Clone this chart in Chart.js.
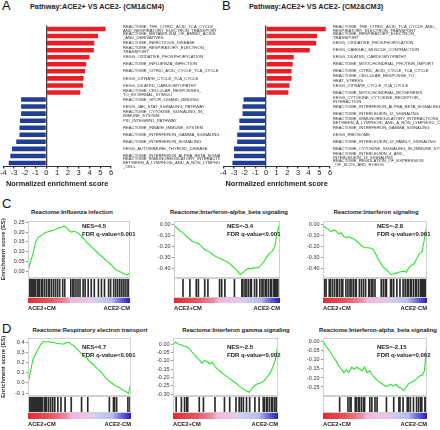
<!DOCTYPE html>
<html>
<head>
<meta charset="utf-8">
<script src="https://cdn.jsdelivr.net/npm/chart.js@4.4.1/dist/chart.umd.min.js"></script>
<style>
  body { margin: 0; width: 440px; height: 430px; position: relative; overflow: hidden; background: #fff;
         font-family: "Liberation Sans", Arial, sans-serif; color: #222; }
  .abs { position: absolute; white-space: nowrap; }
  .letter { font-size: 13px; line-height: 13px; color: #111; }
  .ptitle { font-size: 7.3px; font-weight: bold; line-height: 9px; }
  .gtitle { font-size: 5.9px; font-weight: bold; line-height: 8px; transform: translateX(-50%); }
  .nes { font-size: 6px; font-weight: bold; line-height: 7.6px; }
  canvas { position: absolute; }
</style>
</head>
<body>
<div class="abs letter" style="left:2px;top:-1px">A</div>
<div class="abs ptitle" style="left:30px;top:2px">Pathway:ACE2+ VS ACE2- (CM1&amp;CM4)</div>
<div class="abs letter" style="left:222px;top:-1px">B</div>
<div class="abs ptitle" style="left:249px;top:2px">Pathway:ACE2+ VS ACE2- (CM2&amp;CM3)</div>
<canvas id="barA" width="220" height="188" style="left:0;top:0"></canvas>
<canvas id="barB" width="220" height="188" style="left:220px;top:0"></canvas>

<div class="abs letter" style="left:2px;top:197px">C</div>
<div class="abs gtitle" style="left:72px;top:208px">Reactome:Influenza infection</div>
<div class="abs gtitle" style="left:229px;top:208px">Reactome:Interferon-alpha_beta signaling</div>
<div class="abs gtitle" style="left:376px;top:208px">Reactome:Interferon signaling</div>
<canvas id="c1" width="142" height="115" style="left:0;top:203px"></canvas>
<canvas id="c2" width="145" height="115" style="left:145px;top:203px"></canvas>
<canvas id="c3" width="150" height="115" style="left:290px;top:203px"></canvas>
<div class="abs nes" style="left:82px;top:223px">NES=4.5<br>FDR q-value&lt;0.001</div>
<div class="abs nes" style="left:227px;top:223px">NES=-3.4<br>FDR q-value&lt;0.001</div>
<div class="abs nes" style="left:377px;top:223px">NES=-2.8<br>FDR q-value&lt;0.001</div>

<div class="abs letter" style="left:2px;top:322px">D</div>
<div class="abs gtitle" style="left:90px;top:326px">Reactome:Respiratory electron transport</div>
<div class="abs gtitle" style="left:236px;top:326px">Reactome:Interferon gamma signaling</div>
<div class="abs gtitle" style="left:378px;top:326px">Reactome:Interferon-alpha_beta signaling</div>
<canvas id="d1" width="142" height="109" style="left:0;top:321px"></canvas>
<canvas id="d2" width="145" height="109" style="left:145px;top:321px"></canvas>
<canvas id="d3" width="150" height="109" style="left:290px;top:321px"></canvas>
<div class="abs nes" style="left:82px;top:344px">NES=4.7<br>FDR q-value&lt;0.001</div>
<div class="abs nes" style="left:227px;top:344px">NES=-2.5<br>FDR q-value=0.002</div>
<div class="abs nes" style="left:377px;top:344px">NES=-2.15<br>FDR q-value=0.002</div>

<script>
Chart.defaults.font.family = '"Liberation Sans", Arial, sans-serif';
Chart.defaults.color = '#222';

// panel A / B : normalized enrichment scores
const aPathways = [
  ["REACTOME_THE_CITRIC_ACID_TCA_CYCLE_", "AND_RESPIRATORY_ELECTRON_TRANSPORT"],
  ["REACTOME_METABOLISM_OF_AMINO_ACIDS", "_AND_DERIVATIVES"],
  "REACTOME_INFECTIOUS_DISEASE",
  ["REACTOME_RESPIRATORY_ELECTRON_", "TRANSPORT"],
  "KEGG_OXIDATIVE_PHOSPHORYLATION",
  "REACTOME_INFLUENZA_INFECTION",
  "REACTOME_CITRIC_ACID_CYCLE_TCA_CYCLE",
  "KEGG_CITRATE_CYCLE_TCA_CYCLE",
  "KEGG_DILATED_CARDIOMYOPATHY",
  ["REACTOME_CELLULAR_RESPONSES_", "TO_EXTERNAL_STIMULI"],
  "REACTOME_GPCR_LIGAND_BINDING",
  "KEGG_JAK_STAT_SIGNALING_PATHWAY",
  ["REACTOME_CYTOKINE_SIGNALING_IN_", "IMMUNE_SYSTEM"],
  "PID_INTEGRIN1_PATHWAY",
  "REACTOME_INNATE_IMMUNE_SYSTEM",
  "REACTOME_INTERFERON_GAMMA_SIGNALING",
  "REACTOME_INTERFERON_SIGNALING",
  "KEGG_AUTOIMMUNE_THYROID_DISEASE",
  "REACTOME_INTERFERON_ALPHA_BETA_SIGNALING",
  ["REACTOME_IMMUNOREGULATORY_INTERACTIONS_", "BETWEEN_A_LYMPHOID_AND_A_NON_LYMPHOID", "_CELL"]
];
const aNES = [5.5, 4.8, 4.45, 4.4, 4.0, 3.7, 3.6, 3.45, 3.4, 3.15,
              -2.35, -2.35, -2.35, -2.45, -2.5, -2.5, -2.8, -3.2, -3.35, -3.5];

const bPathways = [
  ["REACTOME_THE_CITRIC_ACID_TCA_CYCLE_AND_", "RESPIRATORY_ELECTRON_TRANSPORT"],
  ["REACTOME_RESPIRATORY_ELECTRON_", "TRANSPORT"],
  "KEGG_OXIDATIVE_PHOSPHORYLATION",
  "KEGG_CARDIAC_MUSCLE_CONTRACTION",
  "KEGG_DILATED_CARDIOMYOPATHY",
  "REACTOME_MITOCHONDRIAL_PROTEIN_IMPORT",
  "REACTOME_CITRIC_ACID_CYCLE_TCA_CYCLE",
  ["REACTOME_CELLULAR_RESPONSE_TO_", "HEAT_STRESS"],
  "KEGG_CITRATE_CYCLE_TCA_CYCLE",
  "REACTOME_MITOCHONDRIAL_BIOGENESIS",
  ["KEGG_CYTOKINE_CYTOKINE_RECEPTOR_", "INTERACTION"],
  "REACTOME_INTERFERON_ALPHA_BETA_SIGNALING",
  "REACTOME_INTERLEUKIN_12_SIGNALING",
  ["REACTOME_IMMUNOREGULATORY_INTERACTIONS_", "BETWEEN_A_LYMPHOID_AND_A_NON_LYMPHOID_CELL"],
  "REACTOME_INTERFERON_GAMMA_SIGNALING",
  "KEGG_RIBOSOME",
  "REACTOME_INTERLEUKIN_12_FAMILY_SIGNALING",
  "REACTOME_CYTOKINE_SIGNALING_IN_IMMUNE_SYSTEM",
  ["REACTOME_INTERLEUKIN_4_AND_", "INTERLEUKIN_13_SIGNALING"],
  ["REACTOME_REGULATION_OF_EXPRESSION", "_OF_SLITS_AND_ROBOS"]
];
const bNES = [5.6, 4.8, 4.7, 4.1, 2.6, 2.5, 2.4, 2.4, 2.2, 2.1,
              -2.1, -2.2, -2.2, -2.5, -2.5, -2.7, -2.7, -3.0, -3.0, -3.15];

// panels C / D : running enrichment score (evenly spaced along the ranked list) and hit positions (% of list)
const sideLabels = ["ACE2+CM", "ACE2-CM"];

const c1ES = [0.0, 0.05, 0.09, 0.15, 0.175, 0.18, 0.19, 0.20, 0.203, 0.207, 0.21, 0.215, 0.222, 0.226, 0.232,
  0.225, 0.21, 0.20, 0.205, 0.20, 0.193, 0.178, 0.165, 0.148, 0.137, 0.123, 0.11, 0.098, 0.085, 0.075,
  0.062, 0.05, 0.04, 0.028, 0.012, 0.003, -0.002, -0.01, -0.017, -0.02, -0.005];
const c1Hits = [1, 2, 3, 4, 5, 6, 7, 9, 10, 11, 13, 14, 16, 18, 20, 21, 23, 25, 27, 29, 31, 34, 36, 42, 44, 45,
  47, 49, 51, 54, 56, 59, 62, 65, 69, 72, 75, 79, 81, 84, 86, 88, 90, 92, 94, 96, 98, 99];
const c1Ticks = [0, 0.05, 0.10, 0.15, 0.20, 0.25];

const c2ES = [0.0, -0.025, -0.05, -0.065, -0.085, -0.11, -0.13, -0.15, -0.16, -0.165, -0.185, -0.21, -0.23, -0.24,
  -0.255, -0.275, -0.29, -0.30, -0.31, -0.325, -0.335, -0.35, -0.375, -0.395, -0.42, -0.45, -0.435, -0.41,
  -0.395, -0.40, -0.39, -0.39, -0.385, -0.36, -0.33, -0.29, -0.26, -0.24, -0.20, -0.06, 0.02];
const c2Hits = [8.5, 15, 21, 23, 29, 32, 43, 45, 48, 57, 64, 65, 67, 68, 70, 72, 73, 76, 78, 81, 83, 84, 86, 87,
  89, 91, 92, 94, 95, 96, 97, 98];
const c2Ticks = [0, -0.10, -0.20, -0.30, -0.40];

const c3ES = [0.0, -0.025, -0.04, -0.06, -0.045, -0.055, -0.08, -0.07, -0.105, -0.115, -0.105, -0.12, -0.13, -0.15,
  -0.17, -0.195, -0.205, -0.207, -0.21, -0.215, -0.25, -0.30, -0.34, -0.38, -0.40, -0.42, -0.45, -0.445,
  -0.44, -0.43, -0.425, -0.42, -0.43, -0.39, -0.365, -0.355, -0.31, -0.26, -0.25, -0.13, 0.01];
const c3Hits = [1.6, 3, 6, 7, 9, 11, 13, 14, 16, 18, 19, 22, 24, 26, 27, 29, 31, 32, 35, 37, 39, 41, 44, 45, 47,
  48, 50, 56, 58, 60, 61, 65, 66, 68, 71, 74, 77, 79, 81, 82, 84, 85, 87, 89, 90, 92, 94, 95, 96, 97, 98, 98.5];
const c3Ticks = [0, -0.10, -0.20, -0.30, -0.40];

const d1ES = [-0.01, 0.12, 0.24, 0.29, 0.34, 0.385, 0.41, 0.405, 0.41, 0.40, 0.40, 0.393, 0.39, 0.385, 0.387,
  0.40, 0.40, 0.38, 0.365, 0.335, 0.31, 0.285, 0.26, 0.24, 0.21, 0.19, 0.165, 0.14, 0.12, 0.09, 0.055,
  0.03, 0.01, -0.01, -0.027, -0.04, -0.055, -0.073, -0.085, -0.105, 0.0];
const d1Hits = [1, 2, 3, 4, 5, 6, 7, 8, 9, 10, 11, 12, 13, 14, 16, 17, 18, 20, 22, 24, 26, 29, 32, 36, 42, 52,
  58, 79, 83, 84, 86, 97, 99];
const d1Ticks = [-0.1, 0, 0.1, 0.2, 0.3, 0.4];

const d2ES = [-0.005, 0.012, 0.0, -0.005, -0.012, -0.015, -0.025, -0.045, -0.06, -0.08, -0.095, -0.115, -0.10,
  -0.105, -0.12, -0.11, -0.135, -0.152, -0.165, -0.178, -0.19, -0.20, -0.212, -0.225, -0.235, -0.25, -0.262,
  -0.273, -0.28, -0.29, -0.27, -0.25, -0.24, -0.235, -0.23, -0.215, -0.195, -0.175, -0.14, -0.095, 0.0];
const d2Hits = [3, 8, 11, 13, 14, 25, 29, 40, 49, 54, 60, 63, 65, 67, 70, 73, 78, 82, 86, 87, 89, 90, 92, 94,
  95, 97, 98.5, 99.5];
const d2Ticks = [0, -0.05, -0.10, -0.15, -0.20, -0.25, -0.30];

const d3ES = [0.01, -0.02, -0.04, -0.06, -0.085, -0.105, -0.13, -0.15, -0.17, -0.155, -0.17, -0.14, -0.15, -0.14,
  -0.15, -0.16, -0.14, -0.17, -0.16, -0.185, -0.20, -0.215, -0.225, -0.235, -0.245, -0.245, -0.235, -0.245,
  -0.235, -0.25, -0.255, -0.27, -0.25, -0.23, -0.225, -0.215, -0.205, -0.19, -0.185, -0.16, 0.0];
const d3Hits = [16, 24, 26, 27, 31, 32, 34, 35, 37, 39, 40, 45, 47, 50, 52, 61, 68, 73, 74, 77, 81, 82, 84, 87,
  90, 92, 94, 95, 98, 99];
const d3Ticks = [0, -0.05, -0.10, -0.15, -0.20, -0.25];

const RED = "#ec1c24";
const BLUE = "#203f94";
const GREEN = "#2ae62a";
const ribbonStops = [[0, "#e22b36"], [0.22, "#e6555f"], [0.38, "#ef8fa6"], [0.42, "#f3b5db"], [0.6, "#ecc6ec"],
  [0.66, "#cfcff3"], [0.82, "#b9b9ef"], [0.9, "#6d6de0"], [1, "#2a1cc6"]];

function nesChart(id, labels, values, labelPad, axisWidth) {
  return new Chart(document.getElementById(id), {
    type: "bar",
    data: {
      labels: labels,
      datasets: [{
        data: values,
        backgroundColor: values.map((v) => (v > 0 ? RED : BLUE)),
        barPercentage: 0.64,
        categoryPercentage: 1,
      }],
    },
    options: {
      indexAxis: "y",
      responsive: false,
      animation: false,
      layout: { padding: { top: 25.5, left: 2.5, right: 0, bottom: 0 } },
      plugins: { legend: { display: false }, tooltip: { enabled: false } },
      scales: {
        x: {
          min: -4,
          max: 6,
          ticks: { stepSize: 1, font: { size: 7.5 }, color: "#222", padding: 0, maxRotation: 0, minRotation: 0, autoSkip: false },
          grid: {
            color: (c) => (c.tick && c.tick.value === 0 ? "#444" : "rgba(0,0,0,0)"),
            lineWidth: 1.3,
            tickColor: "#333",
            tickLength: 2,
          },
          border: { color: "#333" },
          title: {
            display: true,
            text: "Normalized enrichment score",
            font: { size: 7.3, weight: "bold" },
            color: "#222",
            padding: 0,
          },
          afterFit: (s) => { s.height = 21.5; },
        },
        y: {
          position: "right",
          grid: { display: false, tickLength: 0 },
          border: { display: false },
          ticks: { font: { size: 4.2, lineHeight: 1 }, color: "#333", padding: labelPad, autoSkip: false },
          afterFit: (s) => { s.width = axisWidth; },
        },
      },
    },
  });
}

function ribbonFill(context) {
  const chart = context.chart;
  const area = chart.chartArea;
  if (!area) return null;
  const g = chart.ctx.createLinearGradient(area.left, 0, area.right, 0);
  ribbonStops.forEach(([p, c]) => g.addColorStop(p, c));
  return g;
}

const framePlugin = {
  id: "frame",
  afterDraw(chart) {
    const { ctx, chartArea: a, scales } = chart;
    ctx.save();
    ctx.strokeStyle = "#cfcfcf";
    ctx.lineWidth = 1;
    ctx.strokeRect(a.left + 0.5, scales.y.top + 0.5, a.width - 1, scales.y.height - 1);
    ctx.strokeRect(a.left + 0.5, scales.yh.top + 0.5, a.width - 1, scales.yh.height - 1);
    ctx.restore();
  },
};

function gseaChart(id, es, hits, yTicks, digits, o) {
  const step = 100 / (es.length - 1);
  return new Chart(document.getElementById(id), {
    type: "line",
    data: {
      datasets: [
        {
          data: es.map((v, i) => ({ x: i * step, y: v })),
          yAxisID: "y",
          borderColor: GREEN,
          borderWidth: 1.1,
          pointRadius: 0,
          fill: false,
        },
        {
          type: "bar",
          data: hits.map((p) => ({ x: p, y: 1 })),
          yAxisID: "yh",
          backgroundColor: "#2b2b2b",
          barThickness: 1,
        },
        {
          data: [{ x: 0, y: 1 }, { x: 100, y: 1 }],
          yAxisID: "yr",
          borderWidth: 0,
          pointRadius: 0,
          fill: "origin",
          backgroundColor: ribbonFill,
        },
      ],
    },
    options: {
      responsive: false,
      animation: false,
      layout: { padding: { top: o.top, right: o.right, left: 0, bottom: 0 } },
      plugins: { legend: { display: false }, tooltip: { enabled: false } },
      scales: {
        x: {
          type: "linear",
          min: 0,
          max: 100,
          offset: false,
          grid: { display: false, tickLength: 0 },
          border: { display: false },
          afterBuildTicks: (s) => { s.ticks = [{ value: 0 }, { value: 100 }]; },
          ticks: {
            align: "inner",
            autoSkip: false,
            maxRotation: 0,
            padding: 1.5,
            font: { size: 5.8, weight: "bold" },
            color: "#222",
            callback: (v) => (v === 0 ? sideLabels[0] : sideLabels[1]),
          },
          afterFit: (s) => { s.height = o.xh; },
        },
        // stacked left axes: higher layout weight is placed on top
        y: {
          stack: "gsea",
          stackWeight: o.w[0],
          weight: 3,
          min: o.min,
          max: o.max,
          afterBuildTicks: (s) => { s.ticks = yTicks.map((v) => ({ value: v })); },
          ticks: { font: { size: 5.5 }, color: "#333", padding: 1.5, autoSkip: false, callback: (v) => v.toFixed(digits) },
          grid: { drawOnChartArea: false, tickLength: 2, color: "#999" },
          border: { color: "#bbb" },
          title: {
            display: !!o.title,
            text: o.title || "",
            font: { size: 5.8, weight: "bold" },
            color: "#333",
            padding: 0,
          },
          afterFit: (s) => { s.width = o.axis; },
        },
        yh: {
          stack: "gsea",
          stackWeight: o.w[1],
          weight: 2,
          min: 0,
          max: 1,
          ticks: { display: false },
          grid: { display: false },
          border: { display: false },
        },
        yr: {
          stack: "gsea",
          stackWeight: o.w[2],
          weight: 1,
          min: 0,
          max: 1,
          ticks: { display: false },
          grid: { display: false },
          border: { display: false },
        },
      },
    },
    plugins: [framePlugin],
  });
}

nesChart("barA", aPathways, aNES, 12, 109);
nesChart("barB", bPathways, bNES, 3, 110);

const rowC = { top: 18, xh: 15, w: [57, 20, 5] };
const rowD = { top: 17, xh: 11, w: [58, 17, 6] };

gseaChart("c1", c1ES, c1Hits, c1Ticks, 2, { ...rowC, axis: 28, right: 12, min: -0.036, max: 0.258, title: "Enrichment score (ES)" });
gseaChart("c2", c2ES, c2Hits, c2Ticks, 2, { ...rowC, axis: 29, right: 10, min: -0.482, max: 0.036 });
gseaChart("c3", c3ES, c3Hits, c3Ticks, 2, { ...rowC, axis: 33, right: 13, min: -0.482, max: 0.036 });
gseaChart("d1", d1ES, d1Hits, d1Ticks, 1, { ...rowD, axis: 28, right: 11, min: -0.129, max: 0.445, title: "Enrichment score (ES)" });
gseaChart("d2", d2ES, d2Hits, d2Ticks, 2, { ...rowD, axis: 28, right: 12, min: -0.312, max: 0.036 });
gseaChart("d3", d3ES, d3Hits, d3Ticks, 2, { ...rowD, axis: 33, right: 13, min: -0.30, max: 0.022 });
</script>
</body>
</html>
